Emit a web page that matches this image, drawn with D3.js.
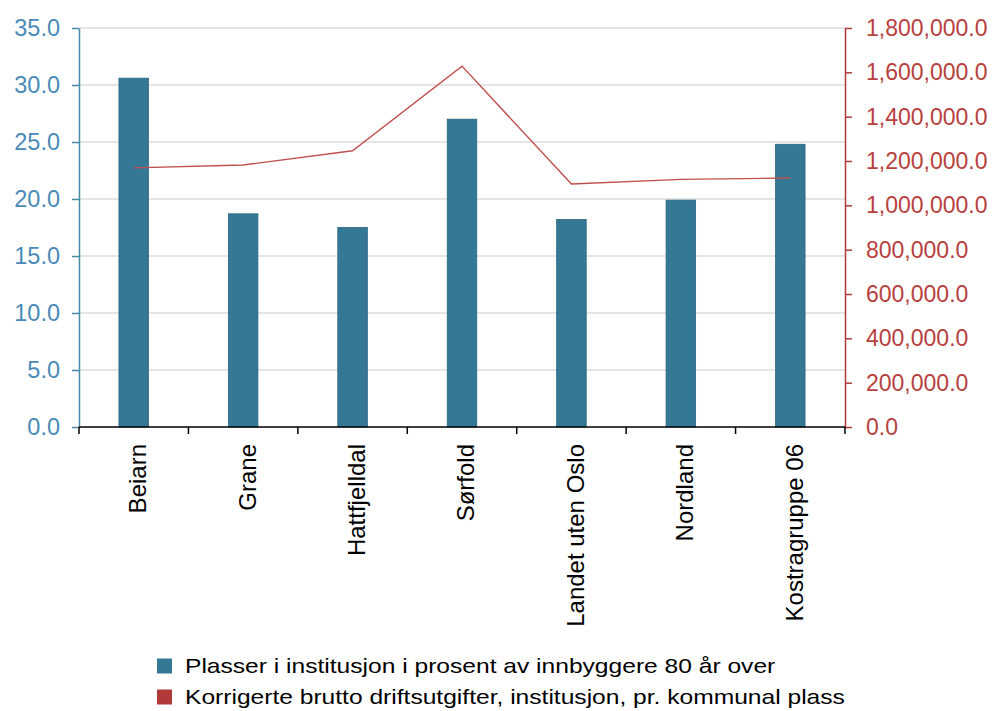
<!DOCTYPE html>
<html><head><meta charset="utf-8">
<script src="https://cdn.jsdelivr.net/npm/d3@7"></script>
<style>body{margin:0;background:#fff;} text{font-family:"Liberation Sans",Arial,sans-serif;}</style>
</head><body>
<svg id="c" width="994" height="711"></svg>
<script>
const categories = ["Beiarn","Grane","Hattfjelldal","Sørfold","Landet uten Oslo","Nordland","Kostragruppe 06"];
const barValues = [30.6, 18.7, 17.5, 27.0, 18.2, 19.9, 24.8];
const lineValues = [1169000, 1182000, 1246000, 1628000, 1096000, 1117000, 1123000];
const leftTicks = [0,5,10,15,20,25,30,35];
const rightTicks = [0,200000,400000,600000,800000,1000000,1200000,1400000,1600000,1800000];
const seriesNames = ["Plasser i institusjon i prosent av innbyggere 80 år over","Korrigerte brutto driftsutgifter, institusjon, pr. kommunal plass"];
const colors = ["#347896","#b03a3a"];

const svg = d3.select("#c");
const m = {l:79, r:845, t:28, b:427};
const x = d3.scaleBand().domain(categories).range([m.l, m.r]).paddingInner(0.73).paddingOuter(0.365);
const xb = d3.scaleBand().domain(categories).range([m.l, m.r]);
const yL = d3.scaleLinear().domain([0,35]).range([m.b, m.t]);
const yR = d3.scaleLinear().domain([0,1800000]).range([m.b, m.t]);

// grid
svg.append("g").selectAll("line").data(leftTicks.slice(1)).join("line")
  .attr("x1", m.l).attr("x2", m.r).attr("y1", d=>yL(d)).attr("y2", d=>yL(d))
  .attr("stroke","#dcdcdc").attr("stroke-width",1.5);

// bars
svg.append("g").selectAll("rect").data(barValues).join("rect")
  .attr("x",(d,i)=>x(categories[i])).attr("width",x.bandwidth())
  .attr("y",d=>yL(d)).attr("height",d=>m.b-yL(d))
  .attr("fill",colors[0]).attr("stroke","#2c6580").attr("stroke-width",0.8);

// line
const line = d3.line().x((d,i)=>xb(categories[i])+xb.bandwidth()/2).y(d=>yR(d));
svg.append("path").datum(lineValues).attr("d",line).attr("fill","none")
  .attr("stroke","#c0504d").attr("stroke-width",1.4);

// left axis
const gl = svg.append("g").attr("transform",`translate(${m.l},0)`)
  .call(d3.axisLeft(yL).tickValues(leftTicks).tickFormat(d3.format(".1f")).tickSize(7).tickSizeOuter(0).tickPadding(12));
gl.select(".domain").attr("stroke","#4a86a8").attr("stroke-width",1.5);
gl.selectAll(".tick line").attr("stroke","#4a86a8").attr("stroke-width",1.5);
gl.selectAll("text").attr("fill","#4a8ab8").attr("font-size",23.5);

// right axis
const gr = svg.append("g").attr("transform",`translate(${m.r},0)`)
  .call(d3.axisRight(yR).tickValues(rightTicks).tickFormat(d3.format(",.1f")).tickSize(7).tickSizeOuter(0).tickPadding(14));
gr.select(".domain").attr("stroke","#b03a3a").attr("stroke-width",1.5);
gr.selectAll(".tick line").attr("stroke","#b03a3a").attr("stroke-width",1.5);
gr.selectAll("text").attr("fill","#b8403e").attr("font-size",23);

// bottom axis
const gb = svg.append("g").attr("transform",`translate(0,${m.b})`);
gb.append("line").attr("x1",m.l).attr("x2",m.r).attr("stroke","#000").attr("stroke-width",1.5);
const bounds = categories.map(c=>xb(c)).concat([m.r]);
gb.selectAll("line.t").data(bounds).join("line").attr("class","t")
  .attr("x1",d=>d).attr("x2",d=>d).attr("y1",0).attr("y2",7).attr("stroke","#000").attr("stroke-width",1.5);
gb.selectAll("text").data(categories).join("text")
  .attr("transform",d=>`translate(${xb(d)+xb.bandwidth()/2+4},17) rotate(-90)`)
  .attr("text-anchor","end").attr("dy","0.35em").attr("font-size",24).attr("fill","#000").text(d=>d);

// legend
const lg = svg.append("g");
seriesNames.forEach((s,i)=>{
  const yy = 666 + i*31;
  lg.append("rect").attr("x",157).attr("y",yy-7.5).attr("width",15).attr("height",15).attr("fill",colors[i]);
  lg.append("text").attr("transform",`translate(185,${yy}) scale(1.2,1)`).attr("dy","0.35em")
    .attr("font-size",20.5).attr("fill","#000").text(s);
});
</script>
</body></html>
